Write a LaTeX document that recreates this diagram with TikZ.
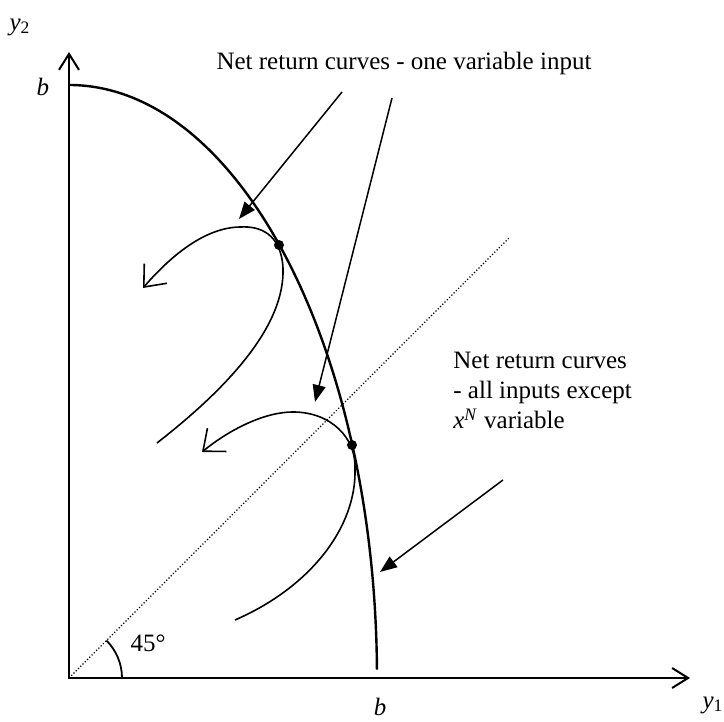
\documentclass[tikz,border=0pt]{standalone}
\usepackage{fontspec}
\setmainfont{Liberation Serif}
\usetikzlibrary{arrows.meta}

\begin{document}
\begin{tikzpicture}[x=0.5pt, y=0.5pt, every node/.style={font=\fontsize{12.5}{15}\selectfont},
	axis/.style={line width=1pt, {Straight Barb[length=8pt,width=10pt]}-{Straight Barb[length=8pt,width=10pt]}},
	frontier/.style={line width=1.2pt},
	netcurve/.style={line width=0.8pt, -{Straight Barb[length=9pt,width=15pt]}},
	pointer/.style={line width=0.75pt, -{Triangle[length=8.5pt,width=6.5pt]}},
	tangency/.style={circle, fill, inner sep=0pt, minimum size=5pt}]
	\useasboundingbox (-69,-44) rectangle (655,678);
	\coordinate (O) at (0,0);
	\coordinate (ytip) at (0,626);
	\coordinate (xtip) at (621,0);
	\coordinate (diag) at (441,441);
	\draw[axis] (ytip) -- (O) -- (xtip);
	\node (y2) at (-49,651) {\textit{y}\textsubscript{2}};
	\node (y1) at (644,-27) {\textit{y}\textsubscript{1}};
	\node (btop) at (-26,591) {\textit{b}};
	\node (bright) at (311,-29) {\textit{b}};
	% production possibility frontier
	\draw[frontier] (0,593) arc[start angle=90, end angle=0.8, x radius=154pt, y radius=296.5pt];
	\draw[densely dotted, line width=0.6pt] (O) -- (diag);
	\draw[line width=0.9pt] (53,0) arc[start angle=0, end angle=45, radius=26.5pt];
	\node (angle) at (79,35) {45°};
	% net return curves
	\draw[netcurve] (88,235) .. controls (165,295) and (216,355) .. (214,410)
		.. controls (212,445) and (190,452) .. (172,451)
		.. controls (135,451) and (100,420) .. (74,390);
	\draw[netcurve] (166,58) .. controls (240,90) and (288,150) .. (286,210)
		.. controls (287,240) and (262,266) .. (224,266)
		.. controls (195,266) and (160,248) .. (133,226);
	\node[tangency] (t1) at (210,433) {};
	\node[tangency] (t2) at (283,233) {};
	\node[anchor=base] (onelabel) at (335,608) {Net return curves - one variable input};
	\node[anchor=north west, align=left, inner sep=0pt] (alllabel) at (384,326) {Net return curves\\- all inputs except\\\textit{x}\textsuperscript{\textit{N}} variable};
	\coordinate (p1s) at (273,586);
	\coordinate (p1e) at (170,459);
	\coordinate (p2s) at (323,580);
	\coordinate (p2e) at (246,276);
	\coordinate (p3s) at (434,198);
	\coordinate (p3e) at (311,106);
	\draw[pointer] (p1s) -- (p1e);
	\draw[pointer] (p2s) -- (p2e);
	\draw[pointer] (p3s) -- (p3e);
\end{tikzpicture}
\end{document}
